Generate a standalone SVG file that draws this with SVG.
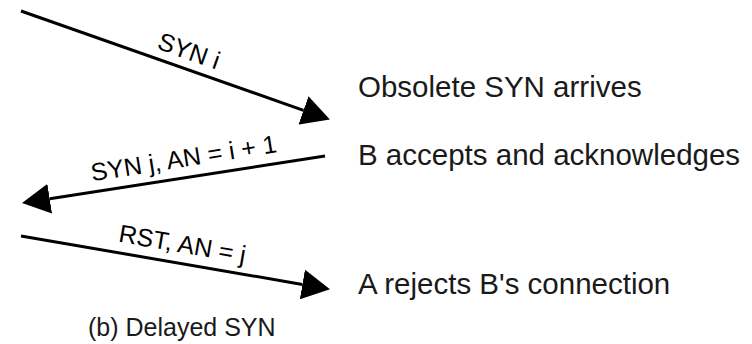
<svg xmlns="http://www.w3.org/2000/svg" width="752" height="344" viewBox="0 0 752 344">
<style>
.line{stroke:#000;stroke-width:3;fill:none;marker-end:url(#head)}
.lbl{font-family:"Liberation Sans",Arial,sans-serif;font-size:25px;fill:#000;text-anchor:middle}
.note{font-family:"Liberation Sans",Arial,sans-serif;font-size:29.5px;fill:#1a1a1a}
.cap{font-family:"Liberation Sans",Arial,sans-serif;font-size:25px;fill:#1a1a1a}
</style>
<defs>
<marker id="head" markerUnits="userSpaceOnUse" viewBox="0 -15 28 30" refX="0" refY="0" markerWidth="28" markerHeight="30" orient="auto">
<path d="M0,-15 L28,0 L0,15 Z" fill="#000"/>
</marker>
</defs>
<rect width="752" height="344" fill="#fff"/>
<g id="connectors">
<line class="line" x1="21" y1="11" x2="303.5" y2="110.3"/>
<line class="line" x1="325" y1="156" x2="49.7" y2="198.7"/>
<line class="line" x1="21" y1="236" x2="302.4" y2="284.4"/>
<text class="lbl" transform="translate(186,59) rotate(19.5)">SYN i</text>
<text class="lbl" transform="translate(185,166.7) rotate(-9)">SYN j, AN = i + 1</text>
<text class="lbl" transform="translate(181,252.5) rotate(9.8)">RST, AN = j</text>
</g>
<g id="obsolete"><text class="note" x="358" y="97">Obsolete SYN arrives</text></g>
<g id="accepts"><text class="note" x="358" y="165">B accepts and acknowledges</text></g>
<g id="rejects"><text class="note" x="358" y="294">A rejects B's connection</text></g>
<g id="caption"><text class="cap" x="88" y="336">(b) Delayed SYN</text></g>
</svg>
